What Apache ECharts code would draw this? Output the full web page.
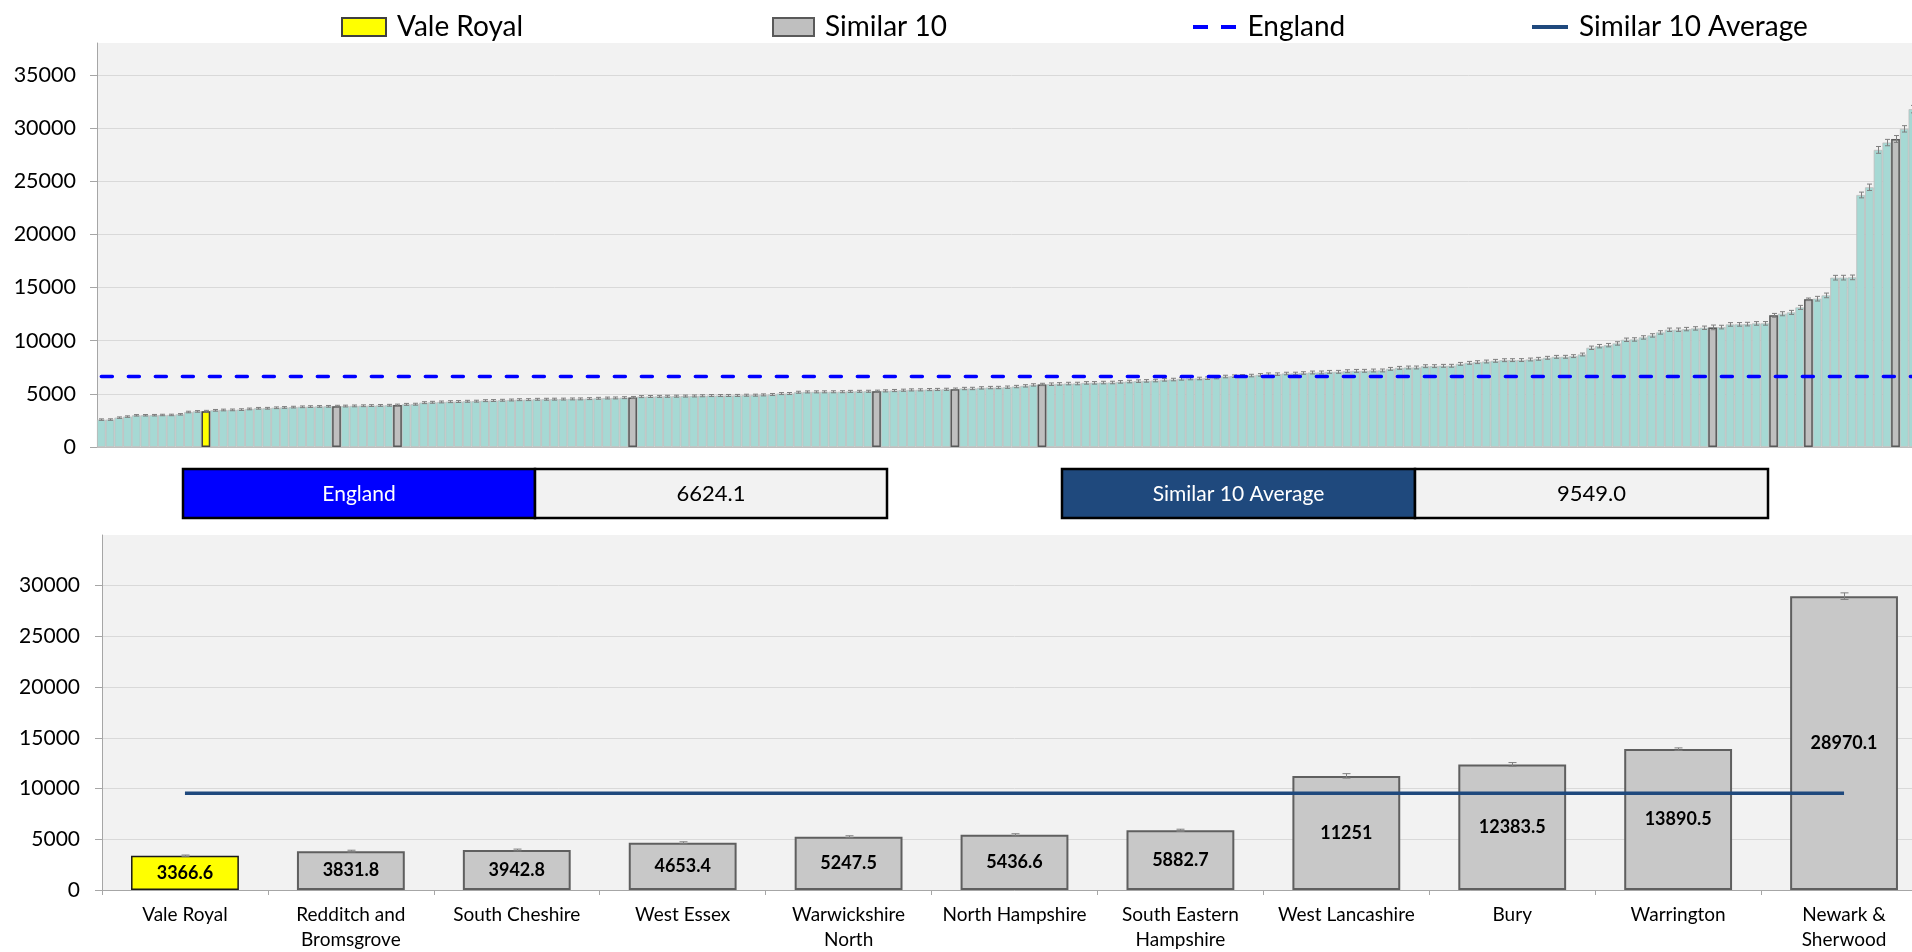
<!DOCTYPE html>
<html>
<head>
<meta charset="utf-8">
<script src="https://cdn.jsdelivr.net/npm/echarts@6/dist/echarts.min.js"></script>
<style>
html,body{margin:0;padding:0;background:#ffffff;overflow:hidden;width:1912px;height:952px}
#c{width:1928px;height:952px}
</style>
</head>
<body>
<div id="c"></div>
<script>
// ---------- data ----------
// all areas, ranked ascending (top panel)
const allValues = [
  2575, 2580, 2760, 2860, 2980, 2985, 2990, 3010, 3015, 3075,
  3290, 3350, 3366.6, 3450, 3480, 3490, 3515, 3580, 3640, 3645,
  3690, 3720, 3750, 3780, 3800, 3815, 3825, 3831.8, 3850, 3865,
  3880, 3895, 3910, 3925, 3942.8, 4010, 4025, 4170, 4205, 4235,
  4265, 4275, 4300, 4310, 4360, 4370, 4395, 4420, 4450, 4455,
  4485, 4490, 4500, 4505, 4520, 4525, 4550, 4580, 4605, 4615,
  4640, 4653.4, 4740, 4750, 4760, 4770, 4780, 4790, 4800, 4820,
  4840, 4840, 4845, 4850, 4870, 4875, 4900, 4935, 5025, 5030,
  5150, 5180, 5185, 5190, 5195, 5200, 5230, 5235, 5240, 5247.5,
  5280, 5310, 5340, 5370, 5375, 5400, 5410, 5425, 5436.6, 5500,
  5505, 5560, 5590, 5595, 5625, 5685, 5750, 5840, 5882.7, 5905,
  5935, 5965, 5970, 6030, 6035, 6060, 6065, 6125, 6155, 6190,
  6220, 6250, 6315, 6345, 6410, 6440, 6445, 6470, 6535, 6630,
  6660, 6690, 6720, 6785, 6845, 6850, 6910, 6915, 6960, 7005,
  7010, 7065, 7070, 7130, 7160, 7165, 7195, 7200, 7350, 7445,
  7475, 7480, 7600, 7605, 7635, 7640, 7820, 7915, 7980, 8040,
  8105, 8165, 8170, 8175, 8230, 8295, 8390, 8480, 8485, 8545,
  8700, 9330, 9485, 9580, 9740, 10085, 10115, 10305, 10495, 10775,
  11025, 11030, 11090, 11155, 11215, 11251, 11280, 11530, 11535, 11560,
  11625, 11630, 12383.5, 12535, 12660, 13130, 13890.5, 13950, 14260, 15925,
  15930, 15955, 23705, 24430, 27945, 28635, 28970.1, 29925, 31780, 33500
];
// half-width of each confidence interval (top panel)
const allErr = [
  70, 70, 70, 70, 70, 70, 70, 70, 70, 70,
  75, 75, 80, 80, 80, 80, 80, 80, 80, 80,
  80, 80, 80, 80, 80, 80, 80, 90, 85, 85,
  85, 85, 85, 85, 90, 90, 90, 90, 90, 90,
  90, 90, 90, 90, 90, 90, 90, 90, 90, 90,
  90, 90, 90, 90, 90, 90, 90, 90, 90, 90,
  90, 100, 95, 95, 95, 95, 95, 95, 95, 95,
  95, 95, 95, 95, 95, 95, 95, 95, 95, 95,
  95, 95, 95, 95, 95, 95, 95, 95, 95, 100,
  100, 100, 100, 100, 100, 100, 100, 100, 110, 110,
  110, 110, 110, 110, 110, 110, 110, 110, 110, 120,
  120, 120, 120, 120, 120, 120, 120, 120, 120, 120,
  120, 120, 120, 120, 120, 120, 120, 120, 120, 120,
  120, 120, 120, 120, 120, 120, 120, 120, 120, 135,
  135, 135, 135, 135, 135, 135, 135, 135, 135, 135,
  135, 135, 135, 135, 135, 135, 135, 135, 135, 135,
  135, 135, 135, 135, 135, 135, 135, 135, 135, 135,
  135, 160, 160, 160, 160, 160, 160, 160, 160, 160,
  160, 160, 160, 160, 160, 220, 170, 170, 170, 170,
  170, 170, 180, 190, 190, 190, 120, 220, 220, 220,
  220, 220, 270, 300, 320, 300, 325, 300, 350, 350
];
const valeRoyalIndex = 12;
const similarIndices = [27, 34, 61, 89, 98, 108, 185, 192, 196, 206];

// comparison panel (bottom)
const peerCategories = ['Vale Royal', 'Redditch and Bromsgrove', 'South Cheshire', 'West Essex',
  'Warwickshire North', 'North Hampshire', 'South Eastern Hampshire', 'West Lancashire',
  'Bury', 'Warrington', 'Newark & Sherwood'];
const peerTickLabels = ['Vale Royal', 'Redditch and\nBromsgrove', 'South Cheshire', 'West Essex',
  'Warwickshire\nNorth', 'North Hampshire', 'South Eastern\nHampshire', 'West Lancashire',
  'Bury', 'Warrington', 'Newark &\nSherwood'];
const peerValues = [3366.6, 3831.8, 3942.8, 4653.4, 5247.5, 5436.6, 5882.7, 11251, 12383.5, 13890.5, 28970.1];
const peerErr = [80, 90, 90, 100, 100, 110, 110, 220, 180, 120, 325];

const englandValue = 6624.1;
const similarAverage = 9549.0;

// ---------- chart ----------
const FONT = 'Lato';
const chart = echarts.init(document.getElementById('c'), null, {renderer: 'canvas'});

function errorBars(capHalf, color) {
  return function (params, api) {
    const x = api.value(0), v = api.value(1), e = api.value(2);
    const hi = api.coord([x, v + e]);
    const lo = api.coord([x, v - e]);
    const cx = Math.round(hi[0]) + 0.5;
    const style = {stroke: color, lineWidth: 1};
    return {
      type: 'group',
      children: [
        {type: 'line', shape: {x1: cx, y1: hi[1], x2: cx, y2: lo[1]}, style: style},
        {type: 'line', shape: {x1: cx - capHalf, y1: hi[1], x2: cx + capHalf, y2: hi[1]}, style: style},
        {type: 'line', shape: {x1: cx - capHalf, y1: lo[1], x2: cx + capHalf, y2: lo[1]}, style: style}
      ]
    };
  };
}

const gridLine = '#d9d9d9';
const axisGrey = '#a6a6a6';

const legendText = {fontFamily: FONT, fontSize: 28, color: '#000', padding: [0, 0, 0, 6]};
function legendAt(name, left, w, h, icon) {
  return {data: [name], left: left, top: 8, itemWidth: w, itemHeight: h, icon: icon,
    textStyle: legendText, selectedMode: false};
}
const plainNumber = v => String(v);

const option = {
  animation: false,
  backgroundColor: '#ffffff',
  textStyle: {fontFamily: FONT},
  legend: [
    legendAt('Vale Royal', 336, 44, 18, 'rect'),
    legendAt('Similar 10', 767, 41, 18, 'rect'),
    legendAt('England', 1188, 44, 4, 'path://M0,0H15V4H0Z M28,0H43V4H28Z'),
    legendAt('Similar 10 Average', 1527, 36, 4, 'rect')
  ],
  grid: [
    {left: 97, right: 2, top: 43, bottom: 505, show: true, backgroundColor: '#f2f2f2', borderWidth: 0},
    {left: 102, right: 1, top: 535, bottom: 61, show: true, backgroundColor: '#f2f2f2', borderWidth: 0}
  ],
  xAxis: [
    {gridIndex: 0, type: 'category', data: allValues.map((_, i) => i + 1),
      axisLabel: {show: false}, axisTick: {show: false},
      axisLine: {lineStyle: {color: '#bfbfbf'}}},
    {gridIndex: 1, type: 'category', data: peerCategories,
      axisLine: {lineStyle: {color: axisGrey}},
      axisTick: {show: true, length: 5, lineStyle: {color: axisGrey}},
      axisLabel: {interval: 0, fontFamily: FONT, fontSize: 19, lineHeight: 25, color: '#000', margin: 12,
        formatter: (val, i) => peerTickLabels[i]}}
  ],
  yAxis: [
    {gridIndex: 0, type: 'value', min: 0, max: 38000, interval: 5000,
      axisLine: {show: true, lineStyle: {color: axisGrey}},
      axisTick: {show: true, length: 7, lineStyle: {color: axisGrey}},
      axisLabel: {fontFamily: FONT, fontSize: 21.5, color: '#000', margin: 21, showMaxLabel: false, formatter: plainNumber},
      splitLine: {lineStyle: {color: [gridLine, gridLine, gridLine, gridLine, gridLine, gridLine, gridLine, gridLine, 'rgba(0,0,0,0)']}}},
    {gridIndex: 1, type: 'value', min: 0, max: 35000, interval: 5000,
      axisLine: {show: true, lineStyle: {color: axisGrey}},
      axisTick: {show: true, length: 7, lineStyle: {color: axisGrey}},
      axisLabel: {fontFamily: FONT, fontSize: 21, color: '#000', margin: 22, showMaxLabel: false, formatter: plainNumber},
      splitLine: {lineStyle: {color: [gridLine, gridLine, gridLine, gridLine, gridLine, gridLine, gridLine, 'rgba(0,0,0,0)']}}}
  ],
  series: [
    // ---- top panel ----
    {name: 'All areas', type: 'bar', xAxisIndex: 0, yAxisIndex: 0,
      data: allValues, barCategoryGap: '0%', barGap: '-100%',
      itemStyle: {color: '#a6d9d4', borderColor: '#bdbdbd', borderWidth: 0.8},
      silent: true},
    {name: 'Vale Royal', type: 'bar', xAxisIndex: 0, yAxisIndex: 0,
      data: allValues.map((v, i) => i === valeRoyalIndex ? v : '-'),
      barCategoryGap: '0%', barGap: '-100%',
      itemStyle: {color: '#ffff00', borderColor: '#404040', borderWidth: 1.5}, silent: true},
    {name: 'Similar 10', type: 'bar', xAxisIndex: 0, yAxisIndex: 0,
      data: allValues.map((v, i) => similarIndices.indexOf(i) >= 0 ? v : '-'),
      barCategoryGap: '0%', barGap: '-100%',
      itemStyle: {color: '#bfbfbf', borderColor: '#595959', borderWidth: 1.5}, silent: true},
    {name: 'All areas CI', type: 'custom', xAxisIndex: 0, yAxisIndex: 0,
      data: allValues.map((v, i) => [i, v, allErr[i]]),
      encode: {x: 0, y: 1}, renderItem: errorBars(2.5, '#7f7f7f'), z: 5, silent: true},
    {name: 'England', type: 'line', xAxisIndex: 0, yAxisIndex: 0,
      data: allValues.map(() => englandValue), symbol: 'none', z: 6,
      itemStyle: {color: '#0000ff'},
      lineStyle: {color: '#0000ff', width: 3.5, type: [11, 16], cap: 'round'}, silent: true},
    // ---- bottom panel ----
    {name: 'Vale Royal', type: 'bar', xAxisIndex: 1, yAxisIndex: 1,
      data: peerValues.map((v, i) => i === 0 ? v : '-'),
      barCategoryGap: '35%', barGap: '-100%',
      itemStyle: {color: '#ffff00', borderColor: '#1a1a1a', borderWidth: 1.5},
      label: {show: true, position: 'inside', fontFamily: FONT, fontWeight: 'bold', fontSize: 18, color: '#000'},
      silent: true},
    {name: 'Similar 10', type: 'bar', xAxisIndex: 1, yAxisIndex: 1,
      data: peerValues.map((v, i) => i === 0 ? '-' : v),
      barCategoryGap: '35%', barGap: '-100%',
      itemStyle: {color: '#c8c8c8', borderColor: '#5f5f5f', borderWidth: 2},
      label: {show: true, position: 'inside', fontFamily: FONT, fontWeight: 'bold', fontSize: 18, color: '#000'},
      silent: true},
    {name: 'Similar CI', type: 'custom', xAxisIndex: 1, yAxisIndex: 1,
      data: peerValues.map((v, i) => [i, v, peerErr[i]]),
      encode: {x: 0, y: 1}, renderItem: errorBars(4, '#7f7f7f'), z: 5, silent: true},
    {name: 'Similar 10 Average', type: 'line', xAxisIndex: 1, yAxisIndex: 1,
      data: peerCategories.map(() => similarAverage), symbol: 'none', z: 6,
      itemStyle: {color: '#1f497d'},
      lineStyle: {color: '#1f497d', width: 3.5}, silent: true}
  ],
  graphic: [
    {type: 'rect', shape: {x: 183, y: 469, width: 352, height: 49}, style: {fill: '#0000ff', stroke: '#000', lineWidth: 2.5}},
    {type: 'rect', shape: {x: 535, y: 469, width: 352, height: 49}, style: {fill: '#f2f2f2', stroke: '#000', lineWidth: 2.5}},
    {type: 'text', x: 359, y: 494, style: {text: 'England', fill: '#fff', fontFamily: FONT, fontSize: 21, align: 'center', verticalAlign: 'middle'}},
    {type: 'text', x: 711, y: 494, style: {text: englandValue.toFixed(1), fill: '#000', fontFamily: FONT, fontSize: 22, align: 'center', verticalAlign: 'middle'}},
    {type: 'rect', shape: {x: 1062, y: 469, width: 353, height: 49}, style: {fill: '#1f497d', stroke: '#000', lineWidth: 2.5}},
    {type: 'rect', shape: {x: 1415, y: 469, width: 353, height: 49}, style: {fill: '#f2f2f2', stroke: '#000', lineWidth: 2.5}},
    {type: 'text', x: 1238.5, y: 494, style: {text: 'Similar 10 Average', fill: '#fff', fontFamily: FONT, fontSize: 21, align: 'center', verticalAlign: 'middle'}},
    {type: 'text', x: 1591.5, y: 494, style: {text: similarAverage.toFixed(1), fill: '#000', fontFamily: FONT, fontSize: 22, align: 'center', verticalAlign: 'middle'}}
  ]
};
chart.setOption(option);
</script>
</body>
</html>
